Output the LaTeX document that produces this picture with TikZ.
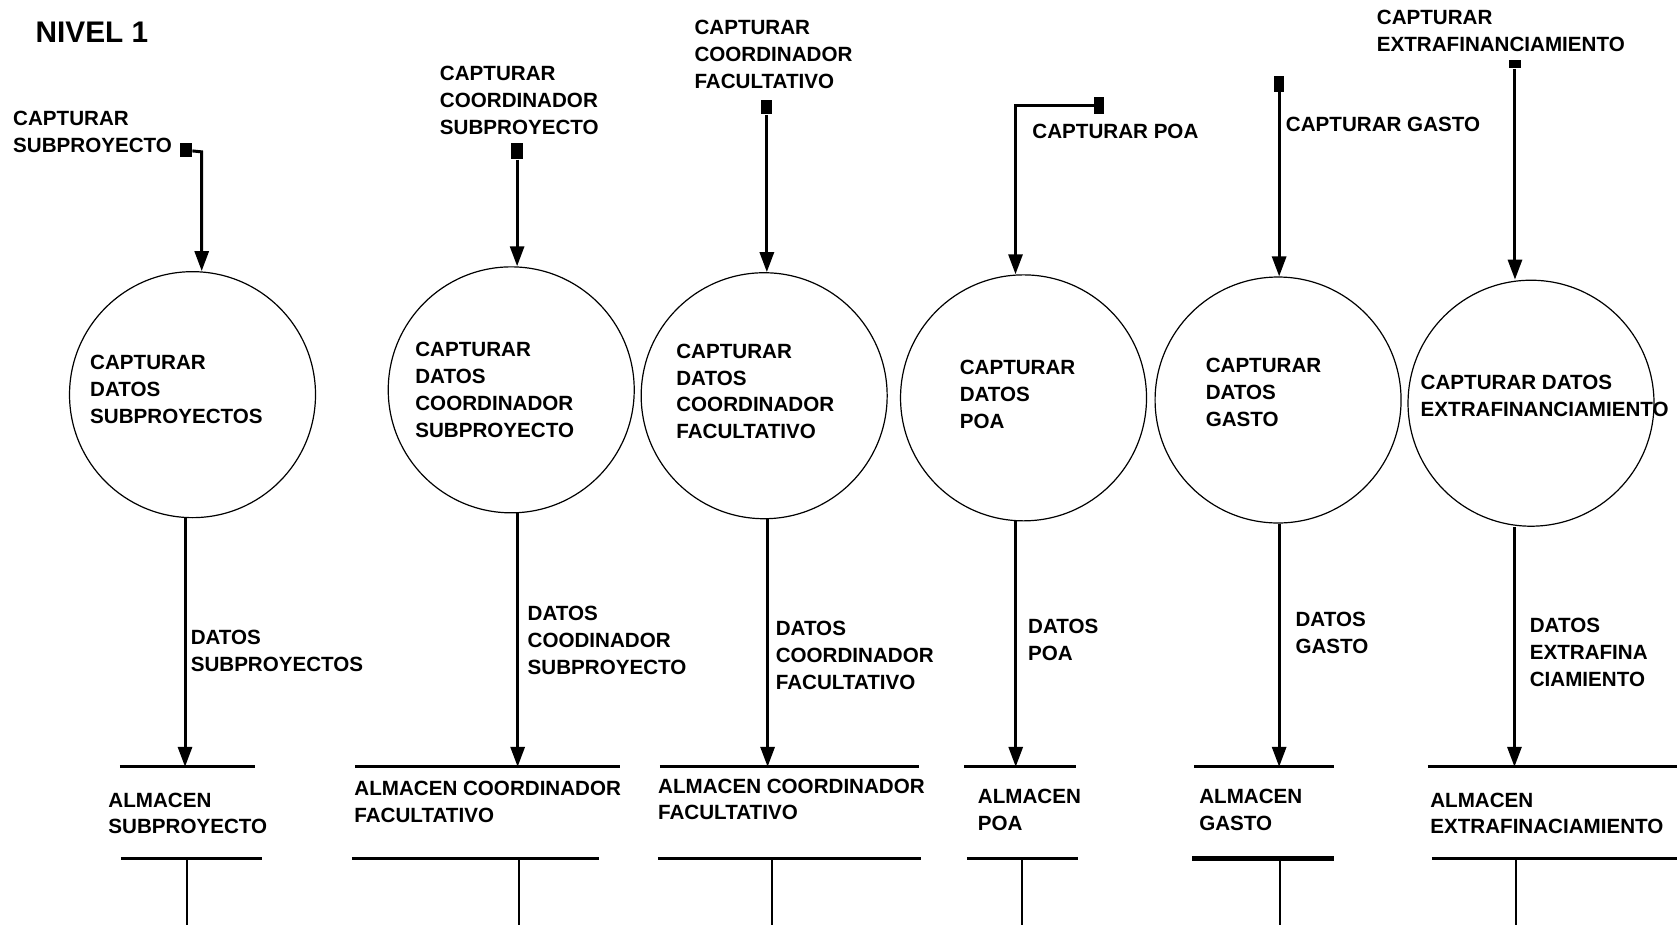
\documentclass[tikz,border=0pt]{standalone}
\usepackage{fontspec}
\setmainfont{Liberation Sans}
\usetikzlibrary{positioning, arrows.meta}

\begin{document}
\begin{tikzpicture}[x=0.5348pt, y=-0.5348pt, >={Triangle[length=10pt, width=7pt]},
  proc/.style={draw, circle, line width=0.6pt, minimum size=123pt, inner sep=0pt},
  txt/.style={anchor=west, align=left, inner sep=0pt, font=\fontsize{10.3}{13.4}\selectfont\bfseries},
  src/.style={fill=black, inner sep=0pt, minimum width=5.5pt, minimum height=7pt},
  flow/.style={->, line width=1.5pt},
  store/.style={line width=1.6pt},
  outl/.style={line width=1pt}]

\useasboundingbox (0,0) rectangle (1568,865);

\node[anchor=west, inner sep=0pt, font=\fontsize{14.9}{18}\selectfont\bfseries] (nivel) at (33,30) {NIVEL 1};

% procesos
\node[proc] (c1) at (180,369) {};
\node[proc] (c2) at (478,364.5) {};
\node[proc] (c3) at (714.5,370) {};
\node[proc] (c4) at (957,372) {};
\node[proc] (c5) at (1195,374) {};
\node[proc] (c6) at (1431.5,377) {};

\node[txt] (t1) at (84,364) {CAPTURAR\\DATOS\\SUBPROYECTOS};
\node[txt] (t2) at (388,364.5) {CAPTURAR\\DATOS\\COORDINADOR\\SUBPROYECTO};
\node[txt] (t3) at (632,366) {CAPTURAR\\DATOS\\COORDINADOR\\FACULTATIVO};
\node[txt] (t4) at (897,369) {CAPTURAR\\DATOS\\POA};
\node[txt] (t5) at (1127,367) {CAPTURAR\\DATOS\\GASTO};
\node[txt] (t6) at (1328,370.5) {CAPTURAR DATOS\\EXTRAFINANCIAMIENTO};

% entradas
\node[src, minimum width=5.9pt, minimum height=7pt] (s1) at (174,140.5) {};
\node[src, minimum width=5.9pt, minimum height=8pt] (s2) at (483.5,141.5) {};
\node[src, minimum width=5.4pt, minimum height=7pt] (s3) at (717,100.5) {};
\node[src, minimum width=4.8pt, minimum height=8.6pt] (s4) at (1027.5,99) {};
\node[src, minimum width=5pt, minimum height=8pt] (s5) at (1196,78.5) {};
\node[src, minimum width=5.9pt, minimum height=4.3pt] (s6) at (1416.5,60) {};

\node[txt] (e1) at (12,123.5) {CAPTURAR\\SUBPROYECTO};
\node[txt] (e2) at (411,94) {CAPTURAR\\COORDINADOR\\SUBPROYECTO};
\node[txt] (e3) at (649,51) {CAPTURAR\\COORDINADOR\\FACULTATIVO};
\node[txt] (e4) at (965,123) {CAPTURAR POA};
\node[txt] (e5) at (1202,116) {CAPTURAR GASTO};
\node[txt] (e6) at (1287,29) {CAPTURAR\\EXTRAFINANCIAMIENTO};

\coordinate (k1) at (188.6,142);
\coordinate (k4) at (949.5,99);

\draw[flow] (s1) -- (k1) -- (k1 |- c1.north);
\draw[flow] (s2) -- (s2 |- c2.north);
\draw[flow] (s3) -- (s3 |- c3.north);
\draw[flow] (s4) -- (k4) -- (k4 |- c4.north);
\draw[flow] (s5) -- (s5 |- c5.north);
\draw[flow] (s6) -- (s6 |- c6.north);

% almacenes
\draw[store] (112,717) -- (238,717);
\draw[store] (113,802.5) -- (245,802.5);
\draw[store] (332,717) -- (580,717);
\draw[store] (329,802.5) -- (560,802.5);
\draw[store] (617,717) -- (859.5,717);
\draw[store] (615,802.5) -- (861,802.5);
\draw[store] (901.5,717) -- (1006.5,717);
\draw[store] (904,802.5) -- (1008,802.5);
\draw[store] (1116.5,717) -- (1247.7,717);
\draw[store, line width=2.6pt] (1114.6,802.5) -- (1247.4,802.5);
\draw[store] (1335,717) -- (1568,717);
\draw[store] (1338.7,802.5) -- (1568,802.5);

\node[txt] (a1) at (101,760.5) {ALMACEN\\SUBPROYECTO};
\node[txt] (a2) at (331,749.5) {ALMACEN COORDINADOR\\FACULTATIVO};
\node[txt] (a3) at (615,747.5) {ALMACEN COORDINADOR\\FACULTATIVO};
\node[txt] (a4) at (914,757.5) {ALMACEN\\POA};
\node[txt] (a5) at (1121,757.5) {ALMACEN\\GASTO};
\node[txt] (a6) at (1337,760.5) {ALMACEN\\EXTRAFINACIAMIENTO};

\coordinate (o1) at (173,717);
\coordinate (o2) at (484,717);
\coordinate (o3) at (717.7,717);
\coordinate (o4) at (949.7,717);
\coordinate (o5) at (1196,717);
\coordinate (o6) at (1416,717);

\draw[flow] (o1 |- c1.south) -- (o1);
\draw[flow] (o2 |- c2.south) -- (o2);
\draw[flow] (o3 |- c3.south) -- (o3);
\draw[flow] (o4 |- c4.south) -- (o4);
\draw[flow] (o5 |- c5.south) -- (o5);
\draw[flow] (o6 |- c6.south) -- (o6);

\node[txt] (d1) at (178,608.5) {DATOS\\SUBPROYECTOS};
\node[txt] (d2) at (493,599) {DATOS\\COODINADOR\\SUBPROYECTO};
\node[txt] (d3) at (725,613) {DATOS\\COORDINADOR\\FACULTATIVO};
\node[txt] (d4) at (961,598.5) {DATOS\\POA};
\node[txt] (d5) at (1211,591.5) {DATOS\\GASTO};
\node[txt] (d6) at (1430,610) {DATOS\\EXTRAFINA\\CIAMIENTO};

% salidas
\coordinate (b1) at (174.5,802.5);
\coordinate (b2) at (485.5,802.5);
\coordinate (b3) at (722,802.5);
\coordinate (b4) at (955.2,802.5);
\coordinate (b5) at (1197,802.5);
\coordinate (b6) at (1417.8,802.5);

\draw[outl] (b1) -- (b1 |- 0,865);
\draw[outl] (b2) -- (b2 |- 0,865);
\draw[outl] (b3) -- (b3 |- 0,865);
\draw[outl] (b4) -- (b4 |- 0,865);
\draw[outl] (b5) -- (b5 |- 0,865);
\draw[outl] (b6) -- (b6 |- 0,865);

\end{tikzpicture}
\end{document}
